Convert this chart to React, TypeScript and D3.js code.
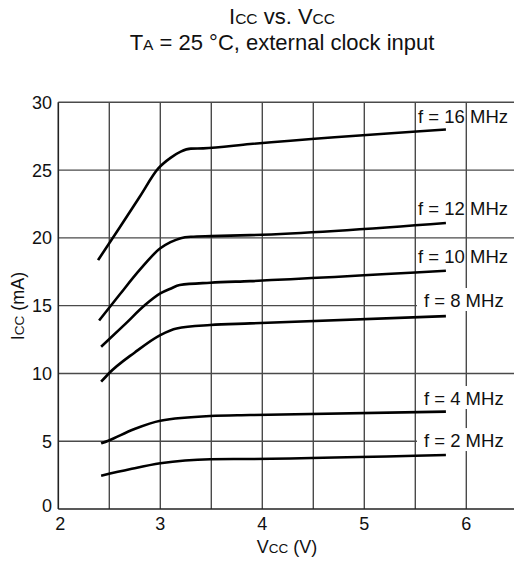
import React from "react";
import * as d3 from "d3";

const xTicks = [2, 3, 4, 5, 6];
const yTicks = [0, 5, 10, 15, 20, 25, 30];
const xGrid = [2.5, 3, 3.5, 4, 4.5, 5, 5.5, 6];
const yGrid = [5, 10, 15, 20, 25, 30];

const v16 = [2.39, 2.6, 2.8, 2.98, 3.1, 3.2, 3.3, 3.42, 3.88, 5.8];
const i16 = [18.36, 20.75, 23.05, 25.12, 25.9, 26.36, 26.58, 26.6, 26.92, 28.0];
const v12 = [2.4, 2.6, 2.8, 3.0, 3.1, 3.2, 3.3, 3.5, 3.88, 5.8];
const i12 = [13.9, 15.8, 17.65, 19.23, 19.68, 19.98, 20.08, 20.13, 20.2, 21.1];
const v10 = [2.42, 2.65, 2.85, 3.0, 3.1, 3.19, 3.49, 3.88, 5.8];
const i10 = [11.97, 13.6, 15.04, 15.9, 16.25, 16.52, 16.69, 16.81, 17.57];
const v8 = [2.42, 2.49, 2.75, 3.0, 3.16, 3.49, 3.88, 5.8];
const i8 = [9.39, 9.96, 11.55, 12.83, 13.32, 13.57, 13.69, 14.23];
const v4 = [2.42, 2.49, 2.74, 3.0, 3.49, 3.88, 5.8];
const i4 = [4.84, 5.04, 5.88, 6.51, 6.86, 6.93, 7.18];
const v2 = [2.42, 2.7, 3.0, 3.49, 3.88, 5.8];
const i2 = [2.46, 2.93, 3.37, 3.67, 3.69, 3.98];

const seriesV = [v16, v12, v10, v8, v4, v2];
const seriesI = [i16, i12, i10, i8, i4, i2];

const labelTexts = ["f = 16 MHz", "f = 12 MHz", "f = 10 MHz", "f = 8 MHz", "f = 4 MHz", "f = 2 MHz"];
const labelV = [5.527, 5.527, 5.527, 5.585, 5.585, 5.585];
const labelI = [28.47, 21.69, 18.15, 14.9, 7.67, 4.57];
const labelBox = [false, false, false, true, true, true];

const FONT = "'Liberation Sans', Arial, Helvetica, sans-serif";

export default function App() {
  const x = d3.scaleLinear().domain([2, 6.5]).range([58.3, 517.3]);
  const y = d3.scaleLinear().domain([0, 30]).range([509, 102.3]);
  const line = d3
    .line<[number, number]>()
    .x((d) => x(d[0]))
    .y((d) => y(d[1]))
    .curve(d3.curveMonotoneX);

  const gridColor = "#4a4a4a";
  const labelFs = 18.5;

  return (
    <svg
      width={514}
      height={561}
      style={{ position: "absolute", left: 0, top: 0, background: "#fff" }}
      fontFamily={FONT}
    >
      <rect x={0} y={0} width={514} height={561} fill="#fff" />
      {/* title */}
      <text x={282} y={24} textAnchor="middle" fontSize={22} fill="#111">
        I<tspan fontSize={15.5}>CC</tspan> vs. V<tspan fontSize={15.5}>CC</tspan>
      </text>
      <text x={282} y={50} textAnchor="middle" fontSize={22} fill="#111">
        T<tspan fontSize={15.5}>A</tspan> = 25 °C, external clock input
      </text>

      {/* grid */}
      {xGrid.map((g) => (
        <line key={"xg" + g} x1={x(g)} x2={x(g)} y1={y(0)} y2={y(30)} stroke={gridColor} strokeWidth={1.4} />
      ))}
      {yGrid.map((g) => (
        <line key={"yg" + g} x1={x(2)} x2={x(6.5)} y1={y(g)} y2={y(g)} stroke={gridColor} strokeWidth={1.4} />
      ))}
      {/* axes */}
      <line x1={x(2)} x2={x(2)} y1={y(0)} y2={y(30)} stroke="#222" strokeWidth={1.6} />
      <line x1={x(2)} x2={x(6.5)} y1={y(0)} y2={y(0)} stroke="#222" strokeWidth={1.6} />

      {/* label boxes */}
      {labelTexts.map((t, k) =>
        labelBox[k] ? (
          <rect
            key={"lb" + k}
            x={x(labelV[k]) - 7}
            y={y(labelI[k]) - 19}
            width={540 - x(labelV[k])}
            height={23}
            fill="#fff"
          />
        ) : null
      )}

      {/* curves */}
      {seriesV.map((vs, k) => {
        const pts = vs.map((v, j) => [v, seriesI[k][j]] as [number, number]);
        return <path key={"c" + k} d={line(pts) || ""} fill="none" stroke="#000" strokeWidth={2.6} />;
      })}

      {/* labels */}
      {labelTexts.map((t, k) => (
        <text key={"lt" + k} x={x(labelV[k])} y={y(labelI[k])} fontSize={labelFs} fill="#111">
          {t}
        </text>
      ))}

      {/* ticks */}
      {xTicks.map((t) => (
        <text key={"xt" + t} x={x(t) + (t === 2 ? 2 : 0)} y={530} textAnchor="middle" fontSize={18} fill="#111">
          {t}
        </text>
      ))}
      {yTicks.map((t) => (
        <text
          key={"yt" + t}
          x={52}
          y={y(t) + 6.5 - (t === 0 ? 4 : 0)}
          textAnchor="end"
          fontSize={18}
          fill="#111"
        >
          {t}
        </text>
      ))}

      {/* axis titles */}
      <text x={287} y={553} textAnchor="middle" fontSize={18} fill="#111">
        V<tspan fontSize={13.5}>CC</tspan> (V)
      </text>
      <text
        transform={`translate(24, ${306}) rotate(-90)`}
        textAnchor="middle"
        fontSize={18}
        fill="#111"
      >
        I<tspan fontSize={13.5}>CC</tspan> (mA)
      </text>
    </svg>
  );
}
